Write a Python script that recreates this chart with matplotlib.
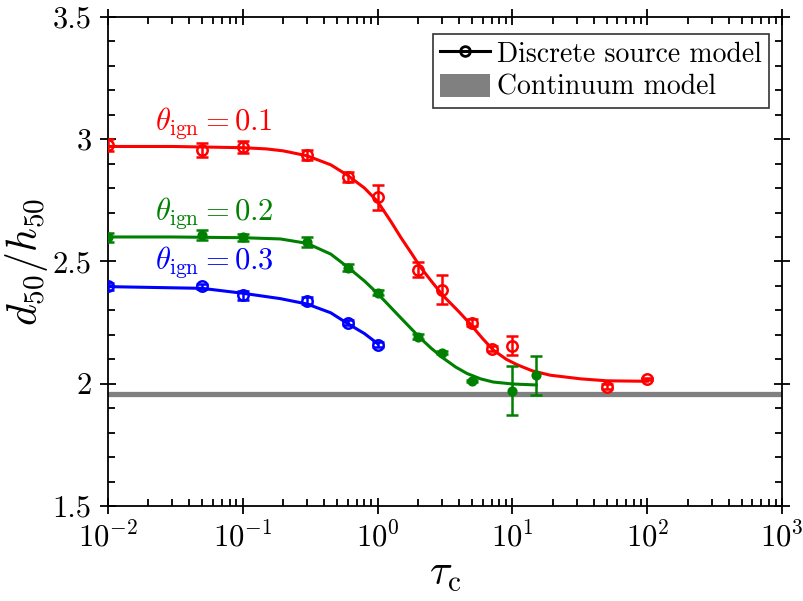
#!/usr/bin/env python3

import matplotlib
matplotlib.use("Agg")
import matplotlib.pyplot as plt
from matplotlib.lines import Line2D
from matplotlib.patches import Patch
from matplotlib.ticker import FixedLocator, FixedFormatter, MultipleLocator, LogLocator, NullFormatter

# ---- data ----
tau_red = [0.01, 0.05, 0.1, 0.3, 0.6, 1, 2, 3, 5, 7, 10, 50, 100]
d_red = [2.975, 2.955, 2.967, 2.934, 2.844, 2.762, 2.467, 2.385, 2.25, 2.143, 2.156, 1.988, 2.02]
err_red = [0.025, 0.03, 0.025, 0.02, 0.02, 0.05, 0.03, 0.06, 0.015, 0.01, 0.04, 0.01, 0.005]

tau_green = [0.01, 0.05, 0.1, 0.3, 0.6, 1, 2, 3, 5, 10, 15]
d_green = [2.598, 2.607, 2.598, 2.578, 2.475, 2.373, 2.193, 2.127, 2.012, 1.971, 2.034]
err_green = [0.02, 0.02, 0.015, 0.02, 0.015, 0.01, 0.01, 0.005, 0.005, 0.1, 0.08]

tau_blue = [0.01, 0.05, 0.1, 0.3, 0.6, 1]
d_blue = [2.398, 2.398, 2.361, 2.34, 2.25, 2.16]
err_blue = [0.015, 0.01, 0.02, 0.015, 0.01, 0.01]

# fitted curves
fit_red_x = [0.01, 0.03, 0.1, 0.15, 0.2, 0.3, 0.45, 0.6, 0.8, 1.0, 1.25, 1.5, 1.8, 2.07, 2.5,
             3.06, 4.0, 4.85, 6.0, 7.2, 9.0, 10.8, 14, 19, 32, 50, 100]
fit_red_y = [2.97, 2.97, 2.965, 2.96, 2.952, 2.932, 2.895, 2.852, 2.80, 2.745, 2.665, 2.595, 2.53,
             2.478, 2.42, 2.36, 2.295, 2.245, 2.185, 2.138, 2.10, 2.078, 2.053, 2.035, 2.02, 2.012, 2.01]
fit_green_x = [0.01, 0.03, 0.1, 0.19, 0.3, 0.45, 0.6, 0.8, 1.0, 1.47, 2.07, 2.5, 3.06, 3.8, 4.6,
               5.8, 7.2, 10, 15]
fit_green_y = [2.60, 2.60, 2.597, 2.592, 2.574, 2.53, 2.477, 2.42, 2.369, 2.272, 2.187, 2.145, 2.105,
               2.068, 2.042, 2.02, 2.007, 1.999, 1.995]
fit_blue_x = [0.01, 0.05, 0.1, 0.19, 0.3, 0.45, 0.6, 0.8, 1.0]
fit_blue_y = [2.397, 2.39, 2.37, 2.348, 2.326, 2.29, 2.246, 2.205, 2.164]

continuum_y = 1.96

theta_labels = [r"$\theta_{\rm ign} = 0.1$", r"$\theta_{\rm ign} = 0.2$", r"$\theta_{\rm ign} = 0.3$"]
y_ticks = [1.5, 2, 2.5, 3, 3.5]
y_ticklabels = ["1.5", "2", "2.5", "3", "3.5"]

plt.rcParams["font.family"] = "serif"
plt.rcParams["font.serif"] = ["cmr10"]
plt.rcParams["mathtext.fontset"] = "cm"
plt.rcParams["axes.formatter.use_mathtext"] = True
plt.rcParams["axes.unicode_minus"] = False

fig = plt.figure(figsize=(8.04, 6.01), dpi=100)
ax = fig.add_axes([0.134, 0.158, 0.839, 0.814])

ax.axhline(continuum_y, color="#808080", linewidth=3.8, zorder=1)

series = [
    (tau_red, d_red, err_red, fit_red_x, fit_red_y, "red", "none", 7.5),
    (tau_green, d_green, err_green, fit_green_x, fit_green_y, "green", "green", 5.5),
    (tau_blue, d_blue, err_blue, fit_blue_x, fit_blue_y, "blue", "none", 7.5),
]
for tx, dy, ey, fx, fy, col, mfc, ms in series:
    ax.plot(fx, fy, color=col, linewidth=2.2, zorder=3)
    ax.errorbar(tx, dy, yerr=ey, fmt="o", color=col, mfc=mfc, mec=col,
                markersize=ms, mew=1.8, elinewidth=1.8, capsize=4.5, capthick=1.8, zorder=4)

ax.text(0.0225, 3.066, theta_labels[0], color="red", fontsize=22, va="center")
ax.text(0.0225, 2.697, theta_labels[1], color="green", fontsize=22, va="center")
ax.text(0.0225, 2.496, theta_labels[2], color="blue", fontsize=22, va="center")

ax.set_xscale("log")
ax.set_xlim(1e-2, 1e3)
ax.set_ylim(1.5, 3.5)
ax.xaxis.set_major_locator(LogLocator(base=10, numticks=10))
ax.xaxis.set_minor_locator(LogLocator(base=10, subs=range(2, 10), numticks=20))
ax.xaxis.set_minor_formatter(NullFormatter())
ax.yaxis.set_major_locator(FixedLocator(y_ticks))
ax.yaxis.set_major_formatter(FixedFormatter(y_ticklabels))
ax.yaxis.set_minor_locator(MultipleLocator(0.1))

ax.tick_params(which="both", top=True, right=True, width=1.3, labelsize=22)
ax.tick_params(which="major", direction="inout", length=11, pad=6)
ax.tick_params(which="minor", direction="in", length=5)
for s in ax.spines.values():
    s.set_linewidth(1.3)

ax.set_xlabel(r"$\tau_{\rm c}$", fontsize=30, labelpad=2)
ax.set_ylabel(r"$d_{50}/h_{50}$", fontsize=30, labelpad=2)

handles = [
    Line2D([], [], color="black", linewidth=2.2, marker="o", mfc="none", mec="black", markersize=7, mew=2),
    Patch(facecolor="#808080", edgecolor="none"),
]
leg = ax.legend(handles, ["Discrete source model", "Continuum model"], loc="upper right",
                fontsize=20, frameon=True, fancybox=False, edgecolor="black",
                handlelength=1.8, handleheight=0.9, handletextpad=0.25, borderpad=0.25,
                labelspacing=0.2, borderaxespad=0, bbox_to_anchor=(0.98, 0.965))
leg.get_frame().set_linewidth(1.2)

fig.savefig("out.png", dpi=100)
